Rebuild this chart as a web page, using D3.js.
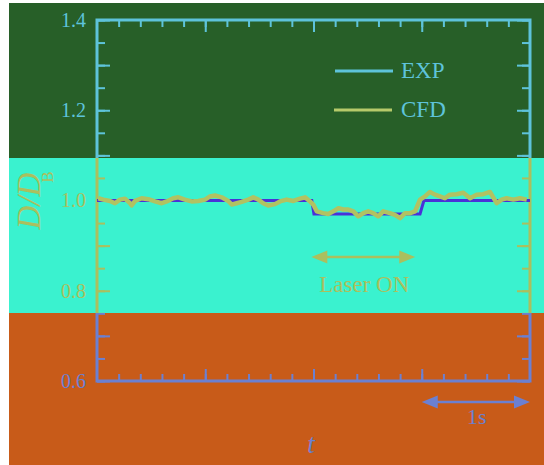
<!DOCTYPE html>
<html>
<head>
<meta charset="utf-8">
<script src="https://cdn.jsdelivr.net/npm/d3@7"></script>
<style>
  html, body { margin: 0; padding: 0; background: #fff; }
  svg { display: block; }
</style>
</head>
<body>
<svg id="chart" width="544" height="465"></svg>
<script>
// data
var cfdTimes = [0.06, 0.29, 0.60, 0.83, 1.06, 1.29, 1.52, 1.60, 1.76, 2.06, 2.37, 2.68, 2.99, 3.22,
    3.52, 3.76, 4.06, 4.37, 4.68, 4.99, 5.22, 5.45, 5.76, 6.06, 6.22, 6.45, 6.68, 6.99, 7.22,
    7.45, 7.68, 7.91, 8.22, 8.45, 8.76, 9.07, 9.38, 9.61, 9.84, 9.99, 10.15, 10.45, 10.68,
    10.92, 11.15, 11.38, 11.61, 11.84, 12.07, 12.30, 12.53, 12.76, 12.99, 13.22, 13.53, 13.76,
    14.00, 14.23, 14.46, 14.69, 14.92, 15.15, 15.38, 15.61, 15.84, 16.07, 16.30, 16.61, 16.92,
    17.23, 17.54, 17.84, 18.15, 18.46, 18.69, 18.92, 19.23, 19.54, 19.85];
var cfdValues = [1.005, 1.002, 0.999, 0.994, 1.002, 1.004, 0.994, 0.989, 0.999, 1.005, 1.003, 0.998, 0.994, 0.998,
    1.005, 1.007, 1.002, 0.998, 0.999, 1.002, 1.009, 1.011, 1.007, 0.999, 0.991, 0.994, 0.997, 1.002, 1.007,
    1.002, 0.994, 0.989, 0.992, 0.998, 1.002, 0.999, 1.004, 1.007, 0.998, 0.991, 0.976, 0.972, 0.970,
    0.976, 0.983, 0.980, 0.980, 0.976, 0.965, 0.972, 0.976, 0.972, 0.965, 0.976, 0.972, 0.968,
    0.961, 0.972, 0.972, 0.976, 1.002, 1.009, 1.019, 1.013, 1.009, 1.005, 1.013, 1.014, 1.017,
    1.005, 1.013, 1.014, 1.019, 0.994, 1.002, 1.005, 1.002, 1.005, 1.002];
var expTimes = [0, 9.92, 10.02, 14.92, 15.1, 20];
var expValues = [1.0, 1.0, 0.97, 0.97, 1.0, 1.0];
var seriesNames = ["EXP", "CFD"];
var yLabelValues = [0.6, 0.8, 1.0, 1.2, 1.4];
var yLabelTexts = ["0.6", "0.8", "1.0", "1.2", "1.4"];
var laserOn = [9.9, 14.7];
var oneSecond = [15, 20];

// layout
var W = 544, H = 465;
var plotLeft = 97, plotRight = 530, plotTop = 20, plotBottom = 381;
var serif = "'Liberation Serif', 'Times New Roman', 'DejaVu Serif', serif";
var blueInk = "#5ec3da", oliveInk = "#abbf5e", periInk = "#6b80d2";
var bands = [
    {y0: 3, y1: 158, fill: "#275f28", ink: blueInk},
    {y0: 158, y1: 313, fill: "#3af2cf", ink: oliveInk},
    {y0: 313, y1: 465, fill: "#c85b19", ink: periInk}
];

var x = d3.scaleLinear().domain([0, 20]).range([plotLeft, plotRight]);
var y = d3.scaleLinear().domain([0.6, 1.4]).range([plotBottom, plotTop]);

var svg = d3.select("#chart");
var defs = svg.append("defs");

bands.forEach(function(b, i) {
    svg.append("rect")
        .attr("x", 9).attr("y", b.y0)
        .attr("width", W - 9).attr("height", b.y1 - b.y0)
        .attr("fill", b.fill);
    defs.append("clipPath").attr("id", "band" + i)
        .append("rect")
        .attr("x", 0).attr("y", b.y0)
        .attr("width", W).attr("height", b.y1 - b.y0);
});

var yMajor = d3.range(6, 15).map(function(d) { return d / 10; });
var yMinor = d3.range(12, 29).map(function(d) { return d / 20; });
var xMajor = [5, 10, 15];
var xMinor = d3.range(1, 20);

function yLabel(d) {
    for (var i = 0; i < yLabelValues.length; i++) {
        if (Math.abs(yLabelValues[i] - d) < 1e-6) return yLabelTexts[i];
    }
    return "";
}

function styleAxis(g) {
    g.select(".domain").remove();
    g.selectAll("line").attr("stroke-width", 2);
    g.selectAll("text")
        .attr("font-family", serif)
        .attr("font-size", 20);
}

function drawFrame(g) {
    g.append("g").call(d3.axisLeft(y).tickValues(yMinor).tickSize(-8).tickFormat(""))
        .attr("transform", "translate(" + plotLeft + ",0)").call(styleAxis);
    g.append("g").call(d3.axisLeft(y).tickValues(yMajor).tickSize(-13).tickPadding(11).tickFormat(yLabel))
        .attr("transform", "translate(" + plotLeft + ",0)").call(styleAxis);
    g.append("g").call(d3.axisRight(y).tickValues(yMinor).tickSize(-8).tickFormat(""))
        .attr("transform", "translate(" + plotRight + ",0)").call(styleAxis);
    g.append("g").call(d3.axisRight(y).tickValues(yMajor).tickSize(-13).tickFormat(""))
        .attr("transform", "translate(" + plotRight + ",0)").call(styleAxis);
    g.append("g").call(d3.axisTop(x).tickValues(xMinor).tickSize(-7).tickFormat(""))
        .attr("transform", "translate(0," + plotTop + ")").call(styleAxis);
    g.append("g").call(d3.axisTop(x).tickValues(xMajor).tickSize(-12).tickFormat(""))
        .attr("transform", "translate(0," + plotTop + ")").call(styleAxis);
    g.append("g").call(d3.axisBottom(x).tickValues(xMinor).tickSize(-7).tickFormat(""))
        .attr("transform", "translate(0," + plotBottom + ")").call(styleAxis);
    g.append("g").call(d3.axisBottom(x).tickValues(xMajor).tickSize(-12).tickFormat(""))
        .attr("transform", "translate(0," + plotBottom + ")").call(styleAxis);

    g.append("rect")
        .attr("x", plotLeft).attr("y", plotTop)
        .attr("width", plotRight - plotLeft).attr("height", plotBottom - plotTop)
        .attr("fill", "none")
        .attr("stroke", "currentColor")
        .attr("stroke-width", 3);
}

function drawArrow(g, x0, x1, yy) {
    var hl = 16, hw = 6.5;
    g.append("line")
        .attr("x1", x0 + hl - 2).attr("x2", x1 - hl + 2)
        .attr("y1", yy).attr("y2", yy)
        .attr("stroke", "currentColor").attr("stroke-width", 2.5);
    g.append("path")
        .attr("d", "M" + x0 + "," + yy + "L" + (x0 + hl) + "," + (yy - hw) + "L" + (x0 + hl) + "," + (yy + hw) + "Z")
        .attr("fill", "currentColor");
    g.append("path")
        .attr("d", "M" + x1 + "," + yy + "L" + (x1 - hl) + "," + (yy - hw) + "L" + (x1 - hl) + "," + (yy + hw) + "Z")
        .attr("fill", "currentColor");
}

var layers = bands.map(function(b, i) {
    var g = svg.append("g")
        .attr("clip-path", "url(#band" + i + ")")
        .attr("color", b.ink);
    drawFrame(g);
    return g;
});

// top band: legend
var legend = layers[0];
legend.append("line")
    .attr("x1", 335).attr("x2", 393).attr("y1", 71).attr("y2", 71)
    .attr("stroke", blueInk).attr("stroke-width", 3);
legend.append("line")
    .attr("x1", 334).attr("x2", 392).attr("y1", 110).attr("y2", 110)
    .attr("stroke", "#b6ca6a").attr("stroke-width", 3);
legend.selectAll("text.leg").data(seriesNames).enter()
    .append("text")
    .attr("class", "leg")
    .attr("x", 401)
    .attr("y", function(d, i) { return i === 0 ? 77.5 : 116.5; })
    .attr("font-family", serif)
    .attr("font-size", 23)
    .attr("fill", blueInk)
    .text(function(d) { return d; });

// middle band: curves, laser annotation, y title
var mid = layers[1];
var expLine = d3.line()
    .x(function(d, i) { return x(expTimes[i]); })
    .y(function(d) { return y(d); });
var cfdLine = d3.line()
    .x(function(d, i) { return x(cfdTimes[i]); })
    .y(function(d) { return y(d); });

mid.append("path")
    .attr("d", expLine(expValues))
    .attr("fill", "none")
    .attr("stroke", "#4a30d8")
    .attr("stroke-width", 3);
mid.append("path")
    .attr("d", cfdLine(cfdValues))
    .attr("fill", "none")
    .attr("stroke", "#b1c262")
    .attr("stroke-width", 4.5)
    .attr("stroke-linejoin", "round");

drawArrow(mid, x(laserOn[0]), x(laserOn[1]), 257);
mid.append("text")
    .attr("x", (x(laserOn[0]) + x(laserOn[1])) / 2 + 1)
    .attr("y", 292)
    .attr("text-anchor", "middle")
    .attr("font-family", serif)
    .attr("font-size", 23)
    .attr("fill", "currentColor")
    .text("Laser ON");

mid.append("text")
    .attr("transform", "translate(40,201) rotate(-90)")
    .attr("text-anchor", "middle")
    .attr("font-family", serif)
    .attr("font-style", "italic")
    .attr("font-size", 33)
    .attr("fill", "currentColor")
    .text("D/D");
mid.append("text")
    .attr("transform", "translate(53,177) rotate(-90)")
    .attr("text-anchor", "middle")
    .attr("font-family", serif)
    .attr("font-size", 17)
    .attr("fill", "currentColor")
    .text("B");

// bottom band: scale bar and t
var low = layers[2];
drawArrow(low, x(oneSecond[0]), x(oneSecond[1]), 402);
low.append("text")
    .attr("x", (x(oneSecond[0]) + x(oneSecond[1])) / 2 + 1)
    .attr("y", 424)
    .attr("text-anchor", "middle")
    .attr("font-family", serif)
    .attr("font-size", 22)
    .attr("fill", "currentColor")
    .text("1s");
low.append("text")
    .attr("x", 311)
    .attr("y", 453)
    .attr("text-anchor", "middle")
    .attr("font-family", serif)
    .attr("font-style", "italic")
    .attr("font-size", 27)
    .attr("fill", "currentColor")
    .text("t");
</script>
</body>
</html>
